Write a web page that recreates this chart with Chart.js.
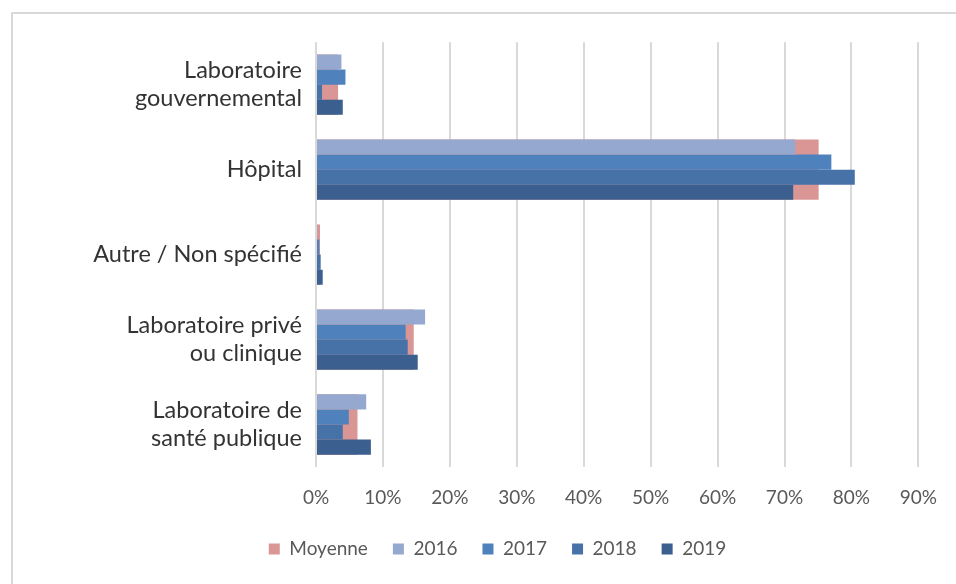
<!DOCTYPE html>
<html>
<head>
<meta charset="utf-8">
<script src="https://cdn.jsdelivr.net/npm/chart.js@4/dist/chart.umd.min.js"></script>
<style>
  html, body { margin: 0; padding: 0; background: #fff; overflow: hidden; }
  #frame {
    position: absolute; left: 11px; top: 12px;
    width: 1000px; height: 1000px;
    border: 2px solid #d9d9d9;
  }
  #wrap { position: absolute; left: 0; top: 0; width: 956px; height: 584px; }
</style>
</head>
<body>
<div id="frame"></div>
<div id="wrap"><canvas id="chart"></canvas></div>
<script>
// Categories (top to bottom)
const categories = [
    ['Laboratoire', 'gouvernemental'],
    ['Hôpital'],
    ['Autre / Non spécifié'],
    ['Laboratoire privé', 'ou clinique'],
    ['Laboratoire de', 'santé publique']
];

// Series values (%)
const moyenne = [3.3, 75.1, 0.6, 14.6, 6.2];
const v2016 = [3.8, 71.6, 0.2, 16.3, 7.5];
const v2017 = [4.4, 77.0, 0.5, 13.4, 4.9];
const v2018 = [0.9, 80.5, 0.7, 13.7, 4.0];
const v2019 = [4.0, 71.3, 1.0, 15.2, 8.2];

// X axis ticks
const xMin = 0;
const xMax = 90;
const xStep = 10;

const FONT = 'Lato, "Liberation Sans", sans-serif';
const PLOT_LEFT = 316;
const PAD_LEFT = 76;

const yearSet = (label, data, color) => ({
    label, data,
    backgroundColor: color,
    borderWidth: 0,
    barPercentage: 1,
    categoryPercentage: 0.71,
    order: 0
});

new Chart(document.getElementById('chart'), {
    type: 'bar',
    data: {
        labels: categories,
        datasets: [
            {
                // drawn behind the year bars, one wide bar per category
                label: 'Moyenne', data: moyenne,
                backgroundColor: '#d99694',
                borderWidth: 0,
                grouped: false,
                barPercentage: 0.71,
                categoryPercentage: 1,
                order: 1
            },
            yearSet('2016', v2016, '#95a9d0'),
            yearSet('2017', v2017, '#4f81bd'),
            yearSet('2018', v2018, '#4672a8'),
            yearSet('2019', v2019, '#3b5f8e')
        ]
    },
    options: {
        indexAxis: 'y',
        responsive: true,
        maintainAspectRatio: false,
        animation: false,
        layout: { padding: { left: PAD_LEFT, top: 42, right: 37, bottom: 15.5 } },
        plugins: {
            tooltip: { enabled: false },
            legend: {
                position: 'bottom',
                labels: {
                    boxWidth: 11, boxHeight: 11, padding: 25,
                    color: '#595959',
                    font: { family: FONT, size: 19 },
                    sort: (a, b) => a.datasetIndex - b.datasetIndex
                }
            }
        },
        scales: {
            x: {
                min: xMin, max: xMax,
                ticks: {
                    stepSize: xStep,
                    color: '#595959',
                    padding: 19,
                    font: { family: FONT, size: 19 },
                    callback: (v) => v + '%'
                },
                grid: { color: '#d9d9d9', lineWidth: 2, drawTicks: false },
                border: { display: false },
                afterFit: (scale) => { scale.height = 47.5; }
            },
            y: {
                ticks: {
                    color: '#333333',
                    padding: 14,
                    font: { family: FONT, size: 23.5, lineHeight: 1.2 }
                },
                grid: { display: false, drawTicks: false },
                border: { display: false },
                afterFit: (scale) => { scale.width = PLOT_LEFT - PAD_LEFT; }
            }
        }
    }
});
</script>
</body>
</html>
